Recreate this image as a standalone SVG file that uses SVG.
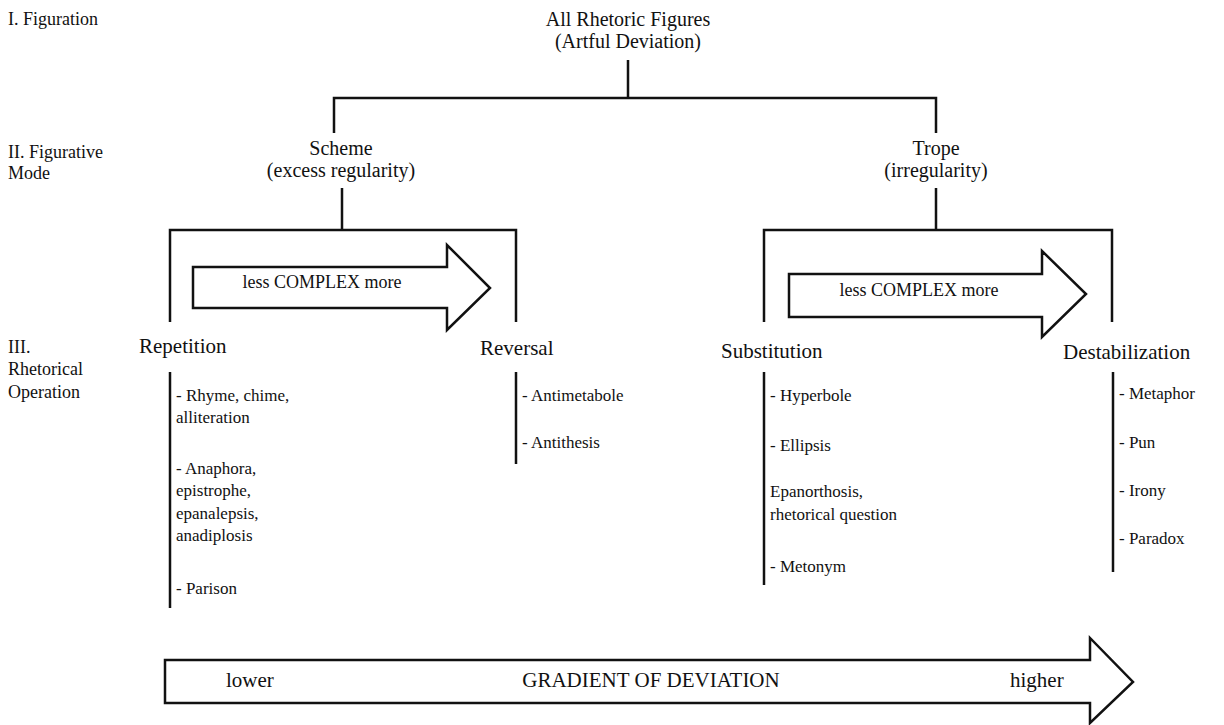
<svg xmlns="http://www.w3.org/2000/svg" width="1224" height="725" viewBox="0 0 1224 725">
<style>
text{font-family:"Liberation Serif","Times New Roman",serif;fill:#111}
.lv{font-size:18px}
.hd{font-size:20px;text-anchor:middle}
.op{font-size:21px}
.it{font-size:17px}
.ax{font-size:18px;text-anchor:middle}
.gd{font-size:21px}
.ln{fill:none;stroke:#111;stroke-width:2.5}
.ar{fill:#fff;stroke:#111;stroke-width:2.5;stroke-linejoin:miter}
</style>
<rect width="1224" height="725" fill="#fff"/>
<g id="levels">
<text class="lv" x="8" y="25">I. Figuration</text>
<text class="lv" x="8" y="158">II. Figurative</text>
<text class="lv" x="8" y="179">Mode</text>
<text class="lv" x="8" y="353">III.</text>
<text class="lv" x="8" y="375">Rhetorical</text>
<text class="lv" x="8" y="398">Operation</text>
</g>
<g id="connectors">
<path class="ln" d="M628,60V98M334,133V98H936V133"/>
<path class="ln" d="M342,188V230M170,322V230H516V322"/>
<path class="ln" d="M936,188V230M764,322V230H1112V322"/>
<path class="ln" d="M170,372V608M516,372V464M764,372V585M1113,372V572"/>
</g>
<g id="root">
<text class="hd" x="628" y="26">All Rhetoric Figures</text>
<text class="hd" x="628" y="48">(Artful Deviation)</text>
</g>
<g id="scheme">
<text class="hd" x="341" y="155">Scheme</text>
<text class="hd" x="341" y="177">(excess regularity)</text>
</g>
<g id="trope">
<text class="hd" x="936" y="155">Trope</text>
<text class="hd" x="936" y="177">(irregularity)</text>
</g>
<g id="arrow-scheme">
<path class="ar" d="M193,267H447V245L490,288L447,330V308H193Z"/>
<text class="ax" x="322" y="288">less COMPLEX more</text>
</g>
<g id="arrow-trope">
<path class="ar" d="M789,274H1042V251L1086,294L1042,337V317H789Z"/>
<text class="ax" x="919" y="296">less COMPLEX more</text>
</g>
<g id="repetition">
<text class="op" x="139" y="353">Repetition</text>
<text class="it" x="176" y="401">- Rhyme, chime,</text>
<text class="it" x="176" y="423">alliteration</text>
<text class="it" x="176" y="474">- Anaphora,</text>
<text class="it" x="176" y="496">epistrophe,</text>
<text class="it" x="176" y="519">epanalepsis,</text>
<text class="it" x="176" y="541">anadiplosis</text>
<text class="it" x="176" y="594">- Parison</text>
</g>
<g id="reversal">
<text class="op" x="480" y="355">Reversal</text>
<text class="it" x="522" y="401">- Antimetabole</text>
<text class="it" x="522" y="448">- Antithesis</text>
</g>
<g id="substitution">
<text class="op" x="721" y="358">Substitution</text>
<text class="it" x="770" y="401">- Hyperbole</text>
<text class="it" x="770" y="451">- Ellipsis</text>
<text class="it" x="770" y="497">Epanorthosis,</text>
<text class="it" x="770" y="520">rhetorical question</text>
<text class="it" x="770" y="572">- Metonym</text>
</g>
<g id="destabilization">
<text class="op" x="1063" y="359">Destabilization</text>
<text class="it" x="1119" y="399">- Metaphor</text>
<text class="it" x="1119" y="448">- Pun</text>
<text class="it" x="1119" y="496">- Irony</text>
<text class="it" x="1119" y="544">- Paradox</text>
</g>
<g id="gradient">
<path class="ar" d="M165,660H1090V638L1133,682L1090,723V703H165Z"/>
<text class="gd" x="226" y="687">lower</text>
<text class="gd" x="651" y="687" text-anchor="middle">GRADIENT OF DEVIATION</text>
<text class="gd" x="1010" y="687">higher</text>
</g>
</svg>
